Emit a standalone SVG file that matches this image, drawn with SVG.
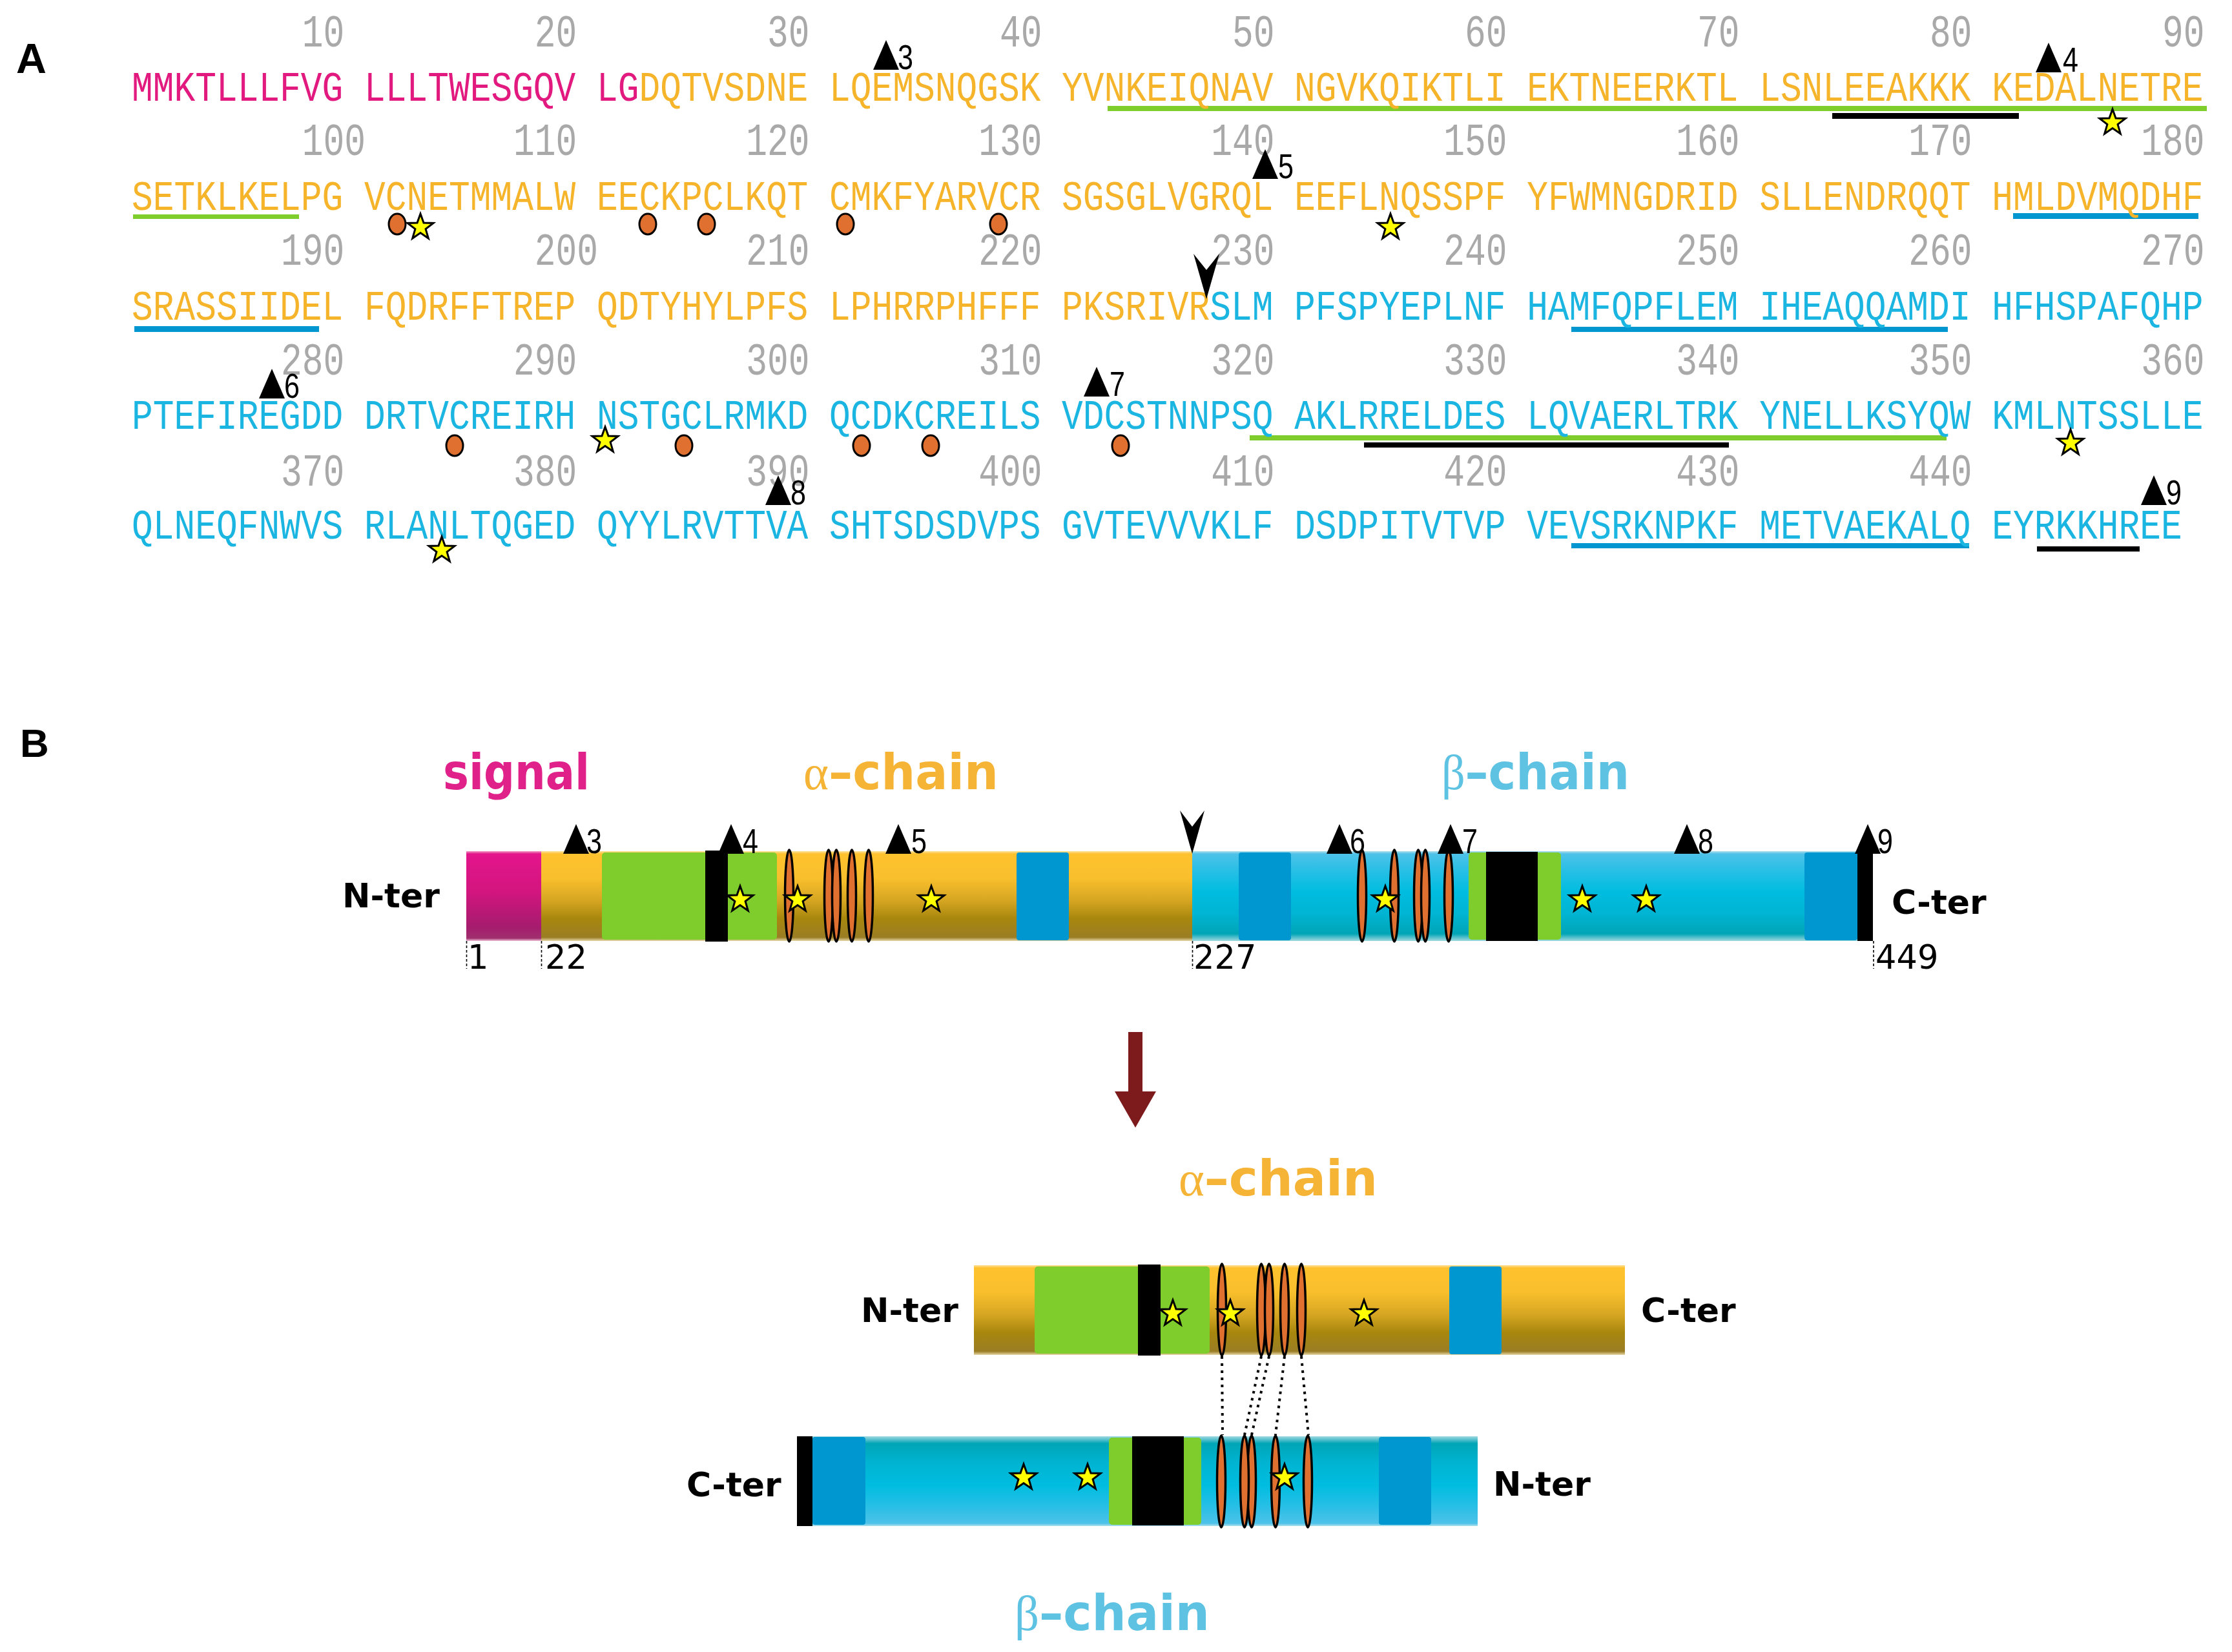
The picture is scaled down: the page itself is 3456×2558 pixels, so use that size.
<svg xmlns="http://www.w3.org/2000/svg" width="3456" height="2558" viewBox="0 0 3456 2558">
<style>
.seq{font-family:"Liberation Mono","Courier New",monospace;font-size:65px}
.num{font-family:"Liberation Mono","Courier New",monospace;font-size:71px;fill:#a9a9a9}
.pk{fill:#e2197f}.or{fill:#f6b42b}.cy{fill:#1bb5e2}
.lbl{font-family:"Liberation Sans",Arial,sans-serif;font-weight:bold;fill:#000}
.ter{font-family:"DejaVu Sans",Verdana,sans-serif;font-weight:bold;font-size:52px;fill:#000}
.pos{font-family:"DejaVu Sans",Verdana,sans-serif;font-size:51px;fill:#000}
.mk{font-family:"Liberation Sans",Arial,sans-serif;font-size:54px;fill:#000}
.cysA{fill:#e07030;stroke:#000;stroke-width:3}
.cysB{fill:#e07030;stroke:#000;stroke-width:3.5}
.title{font-family:"DejaVu Sans",Verdana,sans-serif;font-weight:bold;font-size:76px}
.greek{font-family:"Liberation Serif","DejaVu Serif",serif;font-weight:normal}
.gr{fill:#7fcd2c}.bl{fill:#0096cf}.uk{fill:#000}
.tick{stroke:#000;stroke-width:1.6;stroke-dasharray:4 3}
.dot{stroke:#000;stroke-width:4;stroke-dasharray:4 7;fill:none}
</style>
<defs>
<path id="star" d="M0,-21 L5,-6.9 L20,-6.5 L8.1,2.6 L12.3,17 L0,8.5 L-12.3,17 L-8.1,2.6 L-20,-6.5 L-5,-6.9 Z" fill="#ffff00" stroke="#000" stroke-width="3" stroke-linejoin="miter"/>
<path id="tri" d="M0,-46 L20,0 L-20,0 Z" fill="#000"/>
<linearGradient id="gOr" x1="0" y1="0" x2="0" y2="1">
<stop offset="0" stop-color="#fde3a0"/><stop offset="0.03" stop-color="#ffc22f"/><stop offset="0.3" stop-color="#f9bf2c"/><stop offset="0.55" stop-color="#d6a622"/><stop offset="0.75" stop-color="#a8870d"/><stop offset="0.96" stop-color="#9a7d25"/><stop offset="1" stop-color="#e8d8a8"/>
</linearGradient>
<linearGradient id="gPk" x1="0" y1="0" x2="0" y2="1">
<stop offset="0" stop-color="#f09ac4"/><stop offset="0.03" stop-color="#e3158b"/><stop offset="0.45" stop-color="#d3157f"/><stop offset="0.85" stop-color="#a51c6e"/><stop offset="0.97" stop-color="#a0306e"/><stop offset="1" stop-color="#f0c0d8"/>
</linearGradient>
<linearGradient id="gCy" x1="0" y1="0" x2="0" y2="1">
<stop offset="0" stop-color="#b0e0ea"/><stop offset="0.03" stop-color="#4ec2e9"/><stop offset="0.2" stop-color="#2bbfe6"/><stop offset="0.45" stop-color="#00bde0"/><stop offset="0.7" stop-color="#00b4d2"/><stop offset="0.92" stop-color="#00a5b6"/><stop offset="1" stop-color="#a0d8e0"/>
</linearGradient>
</defs>
<rect width="3456" height="2558" fill="#fff"/>

<!-- ================= PANEL A ================= -->
<g id="panelA">
<text class="lbl" x="25" y="113" font-size="65">A</text>

<g id="numbers">
<text class="num" y="72" textLength="65.5" lengthAdjust="spacingAndGlyphs" x="467.8">10</text>
<text class="num" y="72" textLength="65.5" lengthAdjust="spacingAndGlyphs" x="827.8">20</text>
<text class="num" y="72" textLength="65.5" lengthAdjust="spacingAndGlyphs" x="1187.9">30</text>
<text class="num" y="72" textLength="65.5" lengthAdjust="spacingAndGlyphs" x="1547.9">40</text>
<text class="num" y="72" textLength="65.5" lengthAdjust="spacingAndGlyphs" x="1907.9">50</text>
<text class="num" y="72" textLength="65.5" lengthAdjust="spacingAndGlyphs" x="2268">60</text>
<text class="num" y="72" textLength="65.5" lengthAdjust="spacingAndGlyphs" x="2628">70</text>
<text class="num" y="72" textLength="65.5" lengthAdjust="spacingAndGlyphs" x="2988">80</text>
<text class="num" y="72" textLength="65.5" lengthAdjust="spacingAndGlyphs" x="3348">90</text>

<text class="num" y="240" textLength="98.2" lengthAdjust="spacingAndGlyphs" x="467.8">100</text>
<text class="num" y="240" textLength="98.2" lengthAdjust="spacingAndGlyphs" x="795.1">110</text>
<text class="num" y="240" textLength="98.2" lengthAdjust="spacingAndGlyphs" x="1155.2">120</text>
<text class="num" y="240" textLength="98.2" lengthAdjust="spacingAndGlyphs" x="1515.2">130</text>
<text class="num" y="240" textLength="98.2" lengthAdjust="spacingAndGlyphs" x="1875.2">140</text>
<text class="num" y="240" textLength="98.2" lengthAdjust="spacingAndGlyphs" x="2235.3">150</text>
<text class="num" y="240" textLength="98.2" lengthAdjust="spacingAndGlyphs" x="2595.3">160</text>
<text class="num" y="240" textLength="98.2" lengthAdjust="spacingAndGlyphs" x="2955.3">170</text>
<text class="num" y="240" textLength="98.2" lengthAdjust="spacingAndGlyphs" x="3315.3">180</text>

<text class="num" y="410" textLength="98.2" lengthAdjust="spacingAndGlyphs" x="435.1">190</text>
<text class="num" y="410" textLength="98.2" lengthAdjust="spacingAndGlyphs" x="827.8">200</text>
<text class="num" y="410" textLength="98.2" lengthAdjust="spacingAndGlyphs" x="1155.2">210</text>
<text class="num" y="410" textLength="98.2" lengthAdjust="spacingAndGlyphs" x="1515.2">220</text>
<text class="num" y="410" textLength="98.2" lengthAdjust="spacingAndGlyphs" x="1875.2">230</text>
<text class="num" y="410" textLength="98.2" lengthAdjust="spacingAndGlyphs" x="2235.3">240</text>
<text class="num" y="410" textLength="98.2" lengthAdjust="spacingAndGlyphs" x="2595.3">250</text>
<text class="num" y="410" textLength="98.2" lengthAdjust="spacingAndGlyphs" x="2955.3">260</text>
<text class="num" y="410" textLength="98.2" lengthAdjust="spacingAndGlyphs" x="3315.3">270</text>

<text class="num" y="580" textLength="98.2" lengthAdjust="spacingAndGlyphs" x="435.1">280</text>
<text class="num" y="580" textLength="98.2" lengthAdjust="spacingAndGlyphs" x="795.1">290</text>
<text class="num" y="580" textLength="98.2" lengthAdjust="spacingAndGlyphs" x="1155.2">300</text>
<text class="num" y="580" textLength="98.2" lengthAdjust="spacingAndGlyphs" x="1515.2">310</text>
<text class="num" y="580" textLength="98.2" lengthAdjust="spacingAndGlyphs" x="1875.2">320</text>
<text class="num" y="580" textLength="98.2" lengthAdjust="spacingAndGlyphs" x="2235.3">330</text>
<text class="num" y="580" textLength="98.2" lengthAdjust="spacingAndGlyphs" x="2595.3">340</text>
<text class="num" y="580" textLength="98.2" lengthAdjust="spacingAndGlyphs" x="2955.3">350</text>
<text class="num" y="580" textLength="98.2" lengthAdjust="spacingAndGlyphs" x="3315.3">360</text>

<text class="num" y="752" textLength="98.2" lengthAdjust="spacingAndGlyphs" x="435.1">370</text>
<text class="num" y="752" textLength="98.2" lengthAdjust="spacingAndGlyphs" x="795.1">380</text>
<text class="num" y="752" textLength="98.2" lengthAdjust="spacingAndGlyphs" x="1155.2">390</text>
<text class="num" y="752" textLength="98.2" lengthAdjust="spacingAndGlyphs" x="1515.2">400</text>
<text class="num" y="752" textLength="98.2" lengthAdjust="spacingAndGlyphs" x="1875.2">410</text>
<text class="num" y="752" textLength="98.2" lengthAdjust="spacingAndGlyphs" x="2235.3">420</text>
<text class="num" y="752" textLength="98.2" lengthAdjust="spacingAndGlyphs" x="2595.3">430</text>
<text class="num" y="752" textLength="98.2" lengthAdjust="spacingAndGlyphs" x="2955.3">440</text>
</g>

<g id="underlines">
<rect class="gr" x="1715" y="164" width="1702" height="8"/>
<rect class="uk" x="2837" y="175" width="289" height="9"/>
<rect class="gr" x="206" y="332" width="257" height="7"/>
<rect class="bl" x="3117" y="330" width="287" height="9"/>
<rect class="bl" x="208" y="505" width="286" height="9"/>
<rect class="bl" x="2433" y="506" width="583" height="8"/>
<rect class="gr" x="1935" y="674" width="1079" height="8"/>
<rect class="uk" x="2112" y="685" width="565" height="8"/>
<rect class="bl" x="2433" y="841" width="616" height="8"/>
<rect class="uk" x="3154" y="846" width="159" height="8"/>
</g>

<g id="sequence">
<text class="seq" x="204" y="156" textLength="3207.5" lengthAdjust="spacingAndGlyphs"><tspan class="pk">MMKTLLLFVG LLLTWESGQV LG</tspan><tspan class="or">DQTVSDNE LQEMSNQGSK YVNKEIQNAV NGVKQIKTLI EKTNEERKTL LSNLEEAKKK KEDALNETRE</tspan></text>
<text class="seq or" x="204" y="325" textLength="3207.5" lengthAdjust="spacingAndGlyphs">SETKLKELPG VCNETMMALW EECKPCLKQT CMKFYARVCR SGSGLVGRQL EEFLNQSSPF YFWMNGDRID SLLENDRQQT HMLDVMQDHF</text>
<text class="seq" x="204" y="495" textLength="3207.5" lengthAdjust="spacingAndGlyphs"><tspan class="or">SRASSIIDEL FQDRFFTREP QDTYHYLPFS LPHRRPHFFF PKSRIVR</tspan><tspan class="cy">SLM PFSPYEPLNF HAMFQPFLEM IHEAQQAMDI HFHSPAFQHP</tspan></text>
<text class="seq cy" x="204" y="664" textLength="3207.5" lengthAdjust="spacingAndGlyphs">PTEFIREGDD DRTVCREIRH NSTGCLRMKD QCDKCREILS VDCSTNNPSQ AKLRRELDES LQVAERLTRK YNELLKSYQW KMLNTSSLLE</text>
<text class="seq cy" x="204" y="834" textLength="3174.8" lengthAdjust="spacingAndGlyphs">QLNEQFNWVS RLANLTQGED QYYLRVTTVA SHTSDSDVPS GVTEVVVKLF DSDPITVTVP VEVSRKNPKF METVAEKALQ EYRKKHREE</text>
</g>

<g id="cysteinesA">
<ellipse class="cysA" cx="615" cy="347" rx="13" ry="16"/>
<ellipse class="cysA" cx="1003" cy="347" rx="13" ry="16"/>
<ellipse class="cysA" cx="1094" cy="347" rx="13" ry="16"/>
<ellipse class="cysA" cx="1309" cy="347" rx="13" ry="16"/>
<ellipse class="cysA" cx="1546" cy="347" rx="13" ry="16"/>
<ellipse class="cysA" cx="704" cy="690" rx="13" ry="16"/>
<ellipse class="cysA" cx="1059" cy="690" rx="13" ry="16"/>
<ellipse class="cysA" cx="1334" cy="690" rx="13" ry="16"/>
<ellipse class="cysA" cx="1441" cy="690" rx="13" ry="16"/>
<ellipse class="cysA" cx="1735" cy="690" rx="13" ry="16"/>
</g>

<g id="starsA">
<use href="#star" x="3271" y="190"/>
<use href="#star" x="651" y="352"/>
<use href="#star" x="2153" y="352"/>
<use href="#star" x="937" y="682"/>
<use href="#star" x="3206" y="686"/>
<use href="#star" x="684" y="852"/>
</g>

<g id="markersA">
<use href="#tri" x="1372" y="108"/><text class="mk" x="1390" y="107" textLength="24" lengthAdjust="spacingAndGlyphs">3</text>
<use href="#tri" x="3172" y="112"/><text class="mk" x="3194" y="111" textLength="24" lengthAdjust="spacingAndGlyphs">4</text>
<use href="#tri" x="1959" y="277"/><text class="mk" x="1979" y="276" textLength="24" lengthAdjust="spacingAndGlyphs">5</text>
<use href="#tri" x="421" y="617"/><text class="mk" x="440" y="616" textLength="24" lengthAdjust="spacingAndGlyphs">6</text>
<use href="#tri" x="1698" y="614"/><text class="mk" x="1718" y="613" textLength="24" lengthAdjust="spacingAndGlyphs">7</text>
<use href="#tri" x="1205" y="782"/><text class="mk" x="1224" y="781" textLength="24" lengthAdjust="spacingAndGlyphs">8</text>
<use href="#tri" x="3335" y="782"/><text class="mk" x="3354" y="781" textLength="24" lengthAdjust="spacingAndGlyphs">9</text>
<path d="M1848,393 L1868,418 L1888,393 L1868,463 Z" fill="#000"/>
</g>
</g>

<!-- ================= PANEL B ================= -->
<g id="panelB">
<text class="lbl" x="31" y="1172" font-size="62">B</text>

<g id="titles">
<text class="title" x="686" y="1222" fill="#e0218a" textLength="227" lengthAdjust="spacingAndGlyphs">signal</text>
<text class="title" x="1244" y="1222" fill="#f5b436" textLength="302" lengthAdjust="spacingAndGlyphs"><tspan class="greek">α</tspan>–chain</text>
<text class="title" x="2232" y="1222" fill="#5ec2e3" textLength="291" lengthAdjust="spacingAndGlyphs"><tspan class="greek">β</tspan>–chain</text>
</g>

<g id="precursor">
<rect x="722" y="1318" width="116" height="139" fill="url(#gPk)"/>
<g id="alphaBody">
<rect x="838" y="1318" width="1008" height="139" fill="url(#gOr)"/>
<rect class="gr" x="932" y="1320" width="271" height="135" rx="5"/>
<rect class="uk" x="1092" y="1317" width="35" height="141"/>
<rect class="bl" x="1574" y="1320" width="81" height="136" rx="4"/>
<ellipse class="cysB" cx="1222" cy="1387" rx="6.5" ry="71"/>
<ellipse class="cysB" cx="1283" cy="1387" rx="6.5" ry="71"/>
<ellipse class="cysB" cx="1295" cy="1387" rx="6.5" ry="71"/>
<ellipse class="cysB" cx="1319" cy="1387" rx="6.5" ry="71"/>
<ellipse class="cysB" cx="1345" cy="1387" rx="6.5" ry="71"/>
</g>
<g id="betaBody">
<rect x="1846" y="1318" width="1030" height="139" fill="url(#gCy)"/>
<rect class="bl" x="1918" y="1320" width="81" height="136" rx="4"/>
<ellipse class="cysB" cx="2109" cy="1387" rx="6.5" ry="71"/>
<ellipse class="cysB" cx="2159" cy="1387" rx="6.5" ry="71"/>
<ellipse class="cysB" cx="2196" cy="1387" rx="6.5" ry="71"/>
<ellipse class="cysB" cx="2207" cy="1387" rx="6.5" ry="71"/>
<ellipse class="cysB" cx="2243" cy="1387" rx="6.5" ry="71"/>
<rect class="gr" x="2274" y="1320" width="143" height="135" rx="5"/>
<rect class="uk" x="2301" y="1319" width="80" height="138"/>
<rect class="bl" x="2794" y="1320" width="82" height="136" rx="4"/>
<rect class="uk" x="2876" y="1318" width="24" height="139"/>
</g>
<use href="#star" x="1146" y="1393"/>
<use href="#star" x="1235" y="1393"/>
<use href="#star" x="1442" y="1393"/>
<use href="#star" x="2145" y="1393"/>
<use href="#star" x="2450" y="1393"/>
<use href="#star" x="2549" y="1393"/>
<use href="#tri" x="892" y="1322"/><text class="mk" x="908" y="1321" textLength="24" lengthAdjust="spacingAndGlyphs">3</text>
<use href="#tri" x="1132" y="1322"/><text class="mk" x="1150" y="1321" textLength="24" lengthAdjust="spacingAndGlyphs">4</text>
<use href="#tri" x="1391" y="1322"/><text class="mk" x="1411" y="1321" textLength="24" lengthAdjust="spacingAndGlyphs">5</text>
<use href="#tri" x="2074" y="1322"/><text class="mk" x="2090" y="1321" textLength="24" lengthAdjust="spacingAndGlyphs">6</text>
<use href="#tri" x="2246" y="1322"/><text class="mk" x="2264" y="1321" textLength="24" lengthAdjust="spacingAndGlyphs">7</text>
<use href="#tri" x="2612" y="1322"/><text class="mk" x="2629" y="1321" textLength="24" lengthAdjust="spacingAndGlyphs">8</text>
<use href="#tri" x="2892" y="1322"/><text class="mk" x="2907" y="1321" textLength="24" lengthAdjust="spacingAndGlyphs">9</text>
<path d="M1827,1255 L1846,1280 L1865,1255 L1846,1322 Z" fill="#000"/>
<line class="tick" x1="722.5" y1="1457" x2="722.5" y2="1500"/>
<line class="tick" x1="838.5" y1="1457" x2="838.5" y2="1500"/>
<line class="tick" x1="1846.5" y1="1457" x2="1846.5" y2="1500"/>
<line class="tick" x1="2901" y1="1457" x2="2901" y2="1500"/>
<text class="pos" x="724" y="1500">1</text>
<text class="pos" x="844" y="1500">22</text>
<text class="pos" x="1848" y="1500">227</text>
<text class="pos" x="2904" y="1500">449</text>
<text class="ter" x="530" y="1405">N-ter</text>
<text class="ter" x="2929" y="1415">C-ter</text>
</g>

<g id="alphaChain">
<text class="title" x="1825" y="1851" fill="#f5b436" textLength="308" lengthAdjust="spacingAndGlyphs"><tspan class="greek">α</tspan>–chain</text>
<use href="#alphaBody" transform="translate(670,641)"/>
<use href="#star" x="1816" y="2034"/>
<use href="#star" x="1905" y="2034"/>
<use href="#star" x="2112" y="2034"/>
<text class="ter" x="1333" y="2047">N-ter</text>
<text class="ter" x="2541" y="2047">C-ter</text>
</g>

<g id="betaChain">
<use href="#betaBody" transform="translate(4134,3681) rotate(180)"/>
<use href="#star" x="1989" y="2288"/>
<use href="#star" x="1684" y="2288"/>
<use href="#star" x="1585" y="2288"/>
<text class="ter" x="1063" y="2317">C-ter</text>
<text class="ter" x="2312" y="2316">N-ter</text>
<text class="title" x="1571" y="2524" fill="#5ec2e3" textLength="302" lengthAdjust="spacingAndGlyphs"><tspan class="greek">β</tspan>–chain</text>
</g>

<g id="connectors">
<polygon points="1747,1598 1769,1598 1769,1690 1790,1690 1758,1746 1726,1690 1747,1690" fill="#7d1a1c"/>
<line class="dot" x1="1892" y1="2100" x2="1893" y2="2222"/>
<line class="dot" x1="1953" y1="2100" x2="1927" y2="2222"/>
<line class="dot" x1="1965" y1="2100" x2="1938" y2="2222"/>
<line class="dot" x1="1989" y1="2100" x2="1975" y2="2222"/>
<line class="dot" x1="2015" y1="2100" x2="2026" y2="2222"/>
</g>
</g>
</svg>
